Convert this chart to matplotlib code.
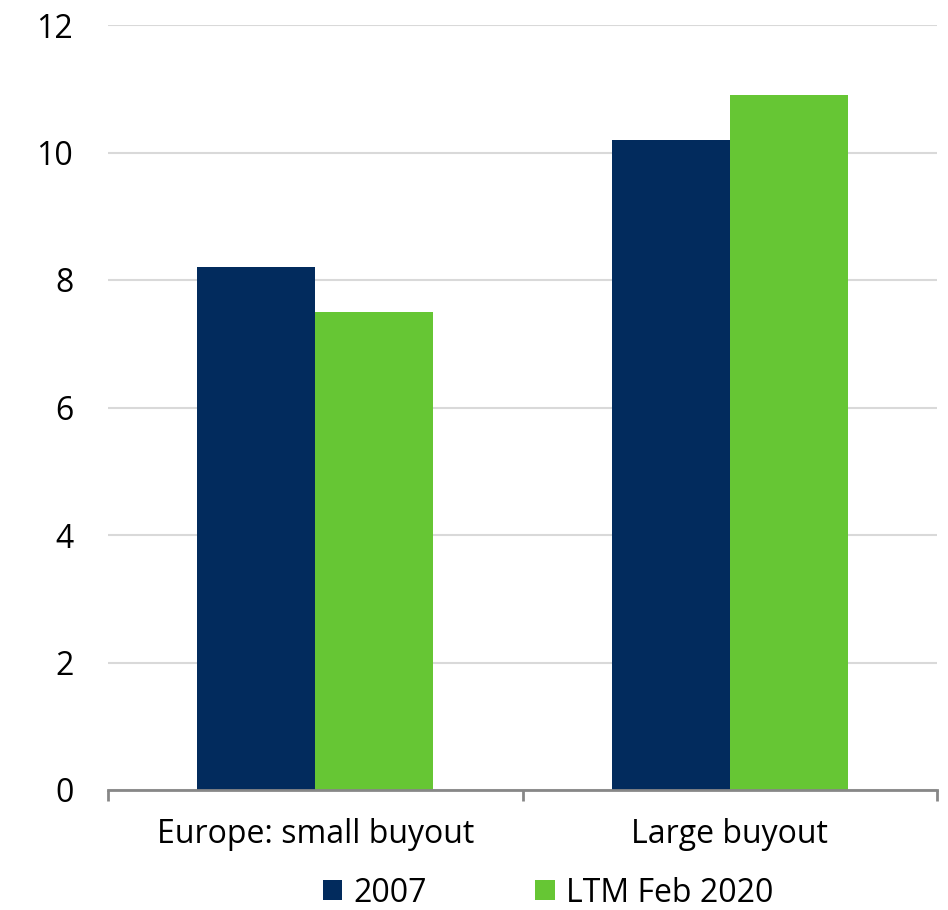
import matplotlib
matplotlib.use("Agg")
import matplotlib.pyplot as plt
from matplotlib.patches import Patch
import numpy as np

categories = ["Europe: small buyout", "Large buyout"]
series_names = ["2007", "LTM Feb 2020"]
values_2007 = [8.2, 10.2]
values_ltm = [7.5, 10.9]
y_ticks = [0, 2, 4, 6, 8, 10, 12]

colors = ["#022B5D", "#66C634"]

plt.rcParams["font.family"] = ["Open Sans", "DejaVu Sans"]

W, H, DPI = 948, 910, 100
fig = plt.figure(figsize=(W / DPI, H / DPI), dpi=DPI)
ax = fig.add_axes([108 / W, 1 - 790 / H, (937 - 108) / W, (790 - 25) / H])

x = np.arange(len(categories))
bw = 0.285
ax.bar(x - bw / 2, values_2007, width=bw, color=colors[0], zorder=3)
ax.bar(x + bw / 2, values_ltm, width=bw, color=colors[1], zorder=3)

ax.set_xlim(-0.5, len(categories) - 0.5)
ax.set_ylim(0, 12)
ax.set_yticks(y_ticks)
ax.set_yticklabels([str(v) for v in y_ticks])
ax.yaxis.grid(True, color="#D9D9D9", linewidth=1.5, zorder=0)
ax.set_axisbelow(True)

for s in ["top", "right", "left"]:
    ax.spines[s].set_visible(False)
ax.spines["bottom"].set_color("#878787")
ax.spines["bottom"].set_linewidth(2)
ax.spines["bottom"].set_zorder(4)

ax.set_xticks(x)
ax.set_xticklabels(categories)
ax.set_xticks(np.arange(-0.5, len(categories), 1.0), minor=True)
ax.tick_params(axis="x", which="major", length=0, pad=20, labelsize=23, colors="#000000")
ax.tick_params(axis="x", which="minor", length=8, width=2, color="#878787", direction="out")
ax.tick_params(axis="y", length=0, pad=25, labelsize=23)

handles = [Patch(facecolor=c, edgecolor="none") for c in colors]
fig.legend(handles, series_names, loc="center", bbox_to_anchor=(548 / W, 1 - 893 / H),
           ncol=2, frameon=False, fontsize=23, handlelength=0.6, handleheight=0.6,
           handletextpad=0.35, columnspacing=3.4, borderpad=0)

fig.savefig("out.png", dpi=DPI, facecolor="white")
